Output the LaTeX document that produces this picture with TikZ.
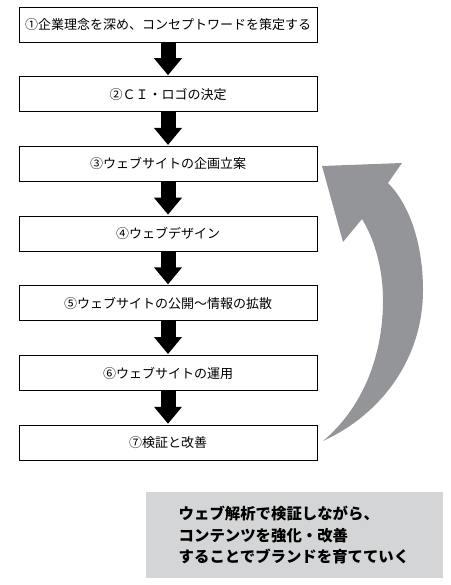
\documentclass[tikz,border=0pt]{standalone}
\usepackage{fontspec}
\newfontfamily\jpfont{Noto Sans CJK JP}
\usepackage{tikz}
\usetikzlibrary{arrows.meta}
\usepackage{xcolor}
\definecolor{backgray}{RGB}{147,149,152}
\definecolor{memogray}{RGB}{212,213,214}
\tikzset{
  stepbox/.style={draw, line width=0.9pt, minimum width=298pt, minimum height=35pt, inner sep=0pt,
    font=\jpfont\fontsize{13pt}{15pt}\selectfont},
  flow/.style={draw=black, line width=15pt, -{Triangle[width=27pt,length=17pt]}, shorten >=1pt},
  backarrow/.style={fill=backgray},
  memo/.style={fill=memogray, minimum width=297pt, minimum height=86pt, align=left,
    font=\jpfont\bfseries\fontsize{15.4pt}{21.5pt}\selectfont}
}
\begin{document}
\begin{tikzpicture}[x=1pt,y=-1pt]
\useasboundingbox (0,0) rectangle (450,585);

% Steps
\foreach \i/\txt in {1/{①企業理念を深め、コンセプトワードを策定する},
                     2/{②ＣＩ・ロゴの決定},
                     3/{③ウェブサイトの企画立案},
                     4/{④ウェブデザイン},
                     5/{⑤ウェブサイトの公開～情報の拡散},
                     6/{⑥ウェブサイトの運用},
                     7/{⑦検証と改善}}{
  \node[stepbox] (s\i) at (168,{24.5+69.7*(\i-1)}) {\txt};
}

% Down arrows
\foreach \i in {1,...,6}{
  \pgfmathtruncatemacro\nxt{\i+1}
  \draw[flow] (s\i.south) -- (s\nxt.north);
}

% Back to planning
\fill[backarrow] (323,441) .. controls (380,415) and (423,360) .. (423,290)
  .. controls (423,245) and (410,205) .. (388,183) -- (402,163) -- (322,166)
  -- (343,242) -- (362,219) .. controls (375,240) and (383,270) .. (383,300)
  .. controls (383,360) and (360,410) .. (323,441) -- cycle;

% Memo
\node[memo] (note) at (294,535) {ウェブ解析で検証しながら、\\コンテンツを強化・改善\\することでブランドを育てていく};
\end{tikzpicture}
\end{document}
